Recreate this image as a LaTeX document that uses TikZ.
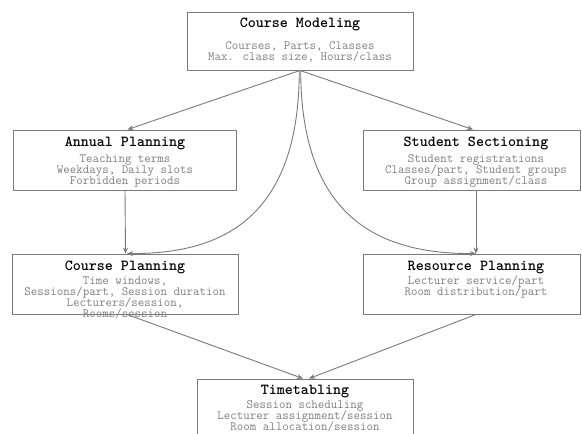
\documentclass[tikz,border=0pt]{standalone}
\usetikzlibrary{arrows.meta,calc}
\definecolor{linegray}{HTML}{7A7A7A}
\definecolor{textgray}{HTML}{808080}
\tikzset{
  box/.style={draw=linegray, line width=0.9pt, inner sep=0pt, fill=white},
  ttl/.style={font=\fontsize{15.3}{16}\selectfont\ttfamily\bfseries, text=black, inner sep=0pt, anchor=base},
  bdy/.style={font=\fontsize{12.6}{11}\selectfont\ttfamily, text=textgray, inner sep=0pt, anchor=base},
  conn/.style={draw=linegray, line width=0.9pt, -{Stealth[length=6pt,width=5pt]}},
}
\begin{document}
\begin{tikzpicture}[x=1pt,y=-1pt]
\useasboundingbox (0,0) rectangle (582,434);
\clip (0,0) rectangle (582,434);
% boxes
\node[box, minimum width=226pt, minimum height=58pt] (cm) at (300,41) {};
\node[box, minimum width=223pt, minimum height=60pt] (ap) at (124.5,160) {};
\node[box, minimum width=217pt, minimum height=60pt] (ss) at (471.5,160) {};
\node[box, minimum width=226pt, minimum height=60pt] (cp) at (125,284) {};
\node[box, minimum width=217pt, minimum height=60pt] (rp) at (471.5,284) {};
\node[box, minimum width=216pt, minimum height=70pt] (tt) at (305,414) {};
% Course Modeling
\node[ttl] (cmt) at (300,27) {Course Modeling};
\node[bdy] (cm1) at (300,49.5) {Courses, Parts, Classes};
\node[bdy] (cm2) at (300,60.5) {Max. class size, Hours/class};
% Annual Planning
\node[ttl] (apt) at (125,146.5) {Annual Planning};
\node[bdy] (ap1) at (125,162.5) {Teaching terms};
\node[bdy] (ap2) at (125,173.5) {Weekdays, Daily slots};
\node[bdy] (ap3) at (125,184.5) {Forbidden periods};
% Student Sectioning
\node[ttl] (sst) at (476,146.5) {Student Sectioning};
\node[bdy] (ss1) at (476,162.5) {Student registrations};
\node[bdy] (ss2) at (476,173.5) {Classes/part, Student groups};
\node[bdy] (ss3) at (476,184.5) {Group assignment/class};
% Course Planning
\node[ttl] (cpt) at (125,270.5) {Course Planning};
\node[bdy] (cp1) at (125,284) {Time windows,};
\node[bdy] (cp2) at (125,295) {Sessions/part, Session duration};
\node[bdy] (cp3) at (125,306) {Lecturers/session,};
\node[bdy] (cp4) at (125,317) {Rooms/session};
% Resource Planning
\node[ttl] (rpt) at (476,270.5) {Resource Planning};
\node[bdy] (rp1) at (476,284) {Lecturer service/part};
\node[bdy] (rp2) at (476,295) {Room distribution/part};
% Timetabling
\node[ttl] (ttt) at (305,394.5) {Timetabling};
\node[bdy] (tt1) at (305,408.5) {Session scheduling};
\node[bdy] (tt2) at (305,419.5) {Lecturer assignment/session};
\node[bdy] (tt3) at (305,430) {Room allocation/session};
% connectors
\draw[conn] (cm.south) -- ($(ap.north)+(3,0)$);
\draw[conn] (cm.south) -- ($(ss.north)+(1.5,0)$);
\draw[conn] ($(cm.south)+(-0.7,0)$) .. controls (299,220) and (220,254) .. ($(cp.north)+(2,0)$);
\draw[conn] ($(cm.south)+(0.7,0)$) .. controls (301,220) and (382,254) .. ($(rp.north)+(4.5,0)$);
\draw[conn] ($(ap.south)+(0.5,0)$) -- ($(cp.north)+(0.5,0)$);
\draw[conn] ($(ss.south)+(4.5,0)$) -- ($(rp.north)+(4.5,0)$);
\draw[conn] ($(cp.south)+(2,0)$) -- ($(tt.north)+(-2,0)$);
\draw[conn] ($(rp.south)+(4.5,0)$) -- ($(tt.north)+(4,0)$);
\end{tikzpicture}
\end{document}
